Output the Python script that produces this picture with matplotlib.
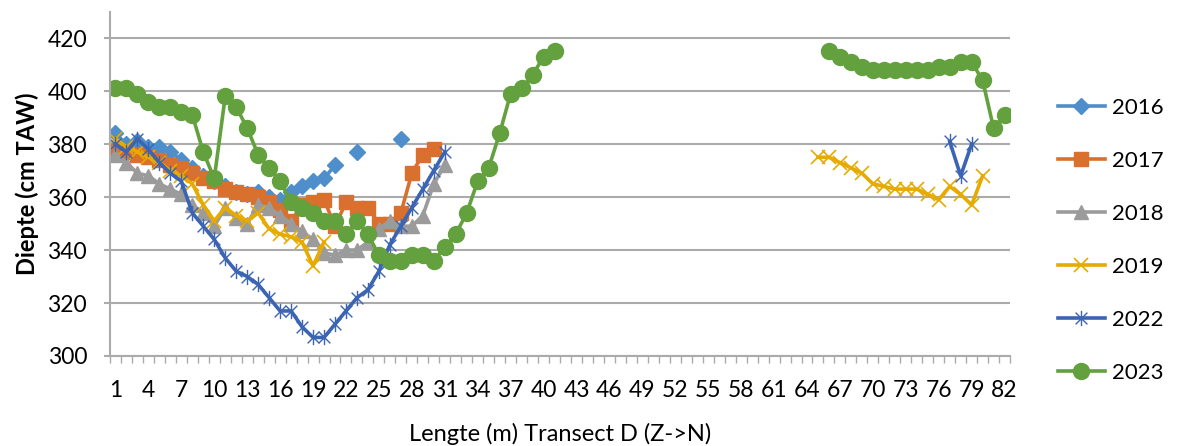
import numpy as np
import matplotlib
matplotlib.use("Agg")
import matplotlib.pyplot as plt
from matplotlib.path import Path

plt.rcParams['font.family'] = ['Lato', 'DejaVu Sans']

# categories 1..82 (m along the transect)
lengte = np.arange(1, 83)
tick_labels = [str(v) for v in range(1, 83, 3)]

# depth per year (cm TAW); each segment starts at the given metre
d2016_a = [384, 380, 381, 379, 379, 377, 374, 371, 368, 366, 364, 362, 361, 362,
           360, 359, 362, 364, 366, 367, 372, None, 377, None, None, None, 382]
d2017_a = [378, 377, 376, 375, 374, 372, 371, 369, 367, 366, 363, 362, 361, 360,
           358, 355, 351, 357, 358, 359, 349, 358, 356, 356, 350, 350, 354, 369,
           376, 378]
d2018_a = [376, 373, 369, 368, 365, 363, 361, 357, 354, 349, 356, 352, 350, 357,
           356, 353, 350, 347, 344, 339, 338, 340, 340, 343, 348, 351, 349, 349,
           353, 365, 372]
d2019_a = [382, 379, 377, 375, 373, 370, 368, 365, 357, 351, 356, 353, 351, 354,
           348, 346, 345, 343, 334, 343]
d2019_b = [375, 375, 373, 371, 369, 365, 364, 363, 363, 363, 361, 359, 364, 361,
           357, 368]
d2022_a = [380, 377, 382, 378, 373, 369, 366, 354, 349, 344, 337, 332, 330, 327,
           322, 317, 317, 311, 307, 307, 312, 317, 322, 325, 332, 342, 349, 356,
           363, 370, 377]
d2022_b = [381, 368, 380]
d2023_a = [401, 401, 399, 396, 394, 394, 392, 391, 377, 367, 398, 394, 386, 376,
           371, 366, 358, 356, 354, 351, 351, 346, 351, 346, 338, 336, 336, 338,
           338, 336, 341, 346, 354, 366, 371, 384, 399, 401, 406, 413, 415]
d2023_b = [415, 413, 411, 409, 408, 408, 408, 408, 408, 408, 409, 409, 411, 411,
           404, 386, 391]


def series(*segments):
    """Place (start, values) segments on the 82-point axis, gaps as NaN."""
    y = np.full(len(lengte), np.nan)
    for start, vals in segments:
        y[start - 1:start - 1 + len(vals)] = np.array(vals, dtype=float)
    return y


# asterisk-like marker: an x with a vertical stroke
star = Path([(-1, -1), (1, 1), (-1, 1), (1, -1), (0, -1.3), (0, 1.3)],
            [Path.MOVETO, Path.LINETO, Path.MOVETO, Path.LINETO,
             Path.MOVETO, Path.LINETO])

years = [
    ("2016", series((1, d2016_a)), "#4E8ECA", dict(marker="D", ms=8.5)),
    ("2017", series((1, d2017_a)), "#D9702D", dict(marker="s", ms=9.5)),
    ("2018", series((1, d2018_a)), "#9B9B9B", dict(marker="^", ms=10)),
    ("2019", series((1, d2019_a), (65, d2019_b)), "#E6AA00",
     dict(marker="x", ms=10.5, mew=1.2)),
    ("2022", series((1, d2022_a), (77, d2022_b)), "#3B64B3",
     dict(marker=star, ms=11, mew=1.0)),
    ("2023", series((1, d2023_a), (66, d2023_b)), "#63A03E",
     dict(marker="o", ms=11.5)),
]

fig = plt.figure(figsize=(11.8, 4.46), dpi=100)
ax = fig.add_axes([0.0932, 0.2018, 0.856 - 0.0932, 0.974 - 0.2018])

for label, y, color, mk in years:
    ax.plot(lengte, y, color=color, lw=2.6, label=label,
            markerfacecolor=color, markeredgecolor=color, **mk)

grid_c = "#ABABAB"
ax.set_xlim(0.5, 82.5)
ax.set_ylim(300, 430)
ax.set_yticks(range(300, 421, 20))
ax.yaxis.grid(True, color=grid_c, lw=1.5)
ax.set_axisbelow(True)

ax.set_xticks(range(1, 83, 3))
ax.set_xticklabels(tick_labels)
ax.set_xticks(np.arange(0.5, 83, 1), minor=True)
ax.tick_params(axis="x", which="major", length=0, pad=17, labelsize=16.5)
ax.tick_params(axis="x", which="minor", length=5, width=1, color=grid_c,
               direction="out")
ax.tick_params(axis="y", length=4.5, width=1.5, color=grid_c, pad=12,
               labelsize=16.5)

for side in ("top", "right"):
    ax.spines[side].set_visible(False)
for side in ("left", "bottom"):
    ax.spines[side].set_color(grid_c)
    ax.spines[side].set_linewidth(1.5)

ax.set_xlabel("Lengte (m) Transect D (Z->N)", fontsize=17, labelpad=16)
ax.set_ylabel("Diepte (cm TAW)", fontsize=17, fontweight="bold", labelpad=6)

fig.legend(loc="center left", bbox_to_anchor=(0.889, 0.461), frameon=False,
           fontsize=16, handlelength=2.1, handletextpad=0.35,
           labelspacing=1.48, borderaxespad=0)

fig.savefig("out.png", dpi=100)
